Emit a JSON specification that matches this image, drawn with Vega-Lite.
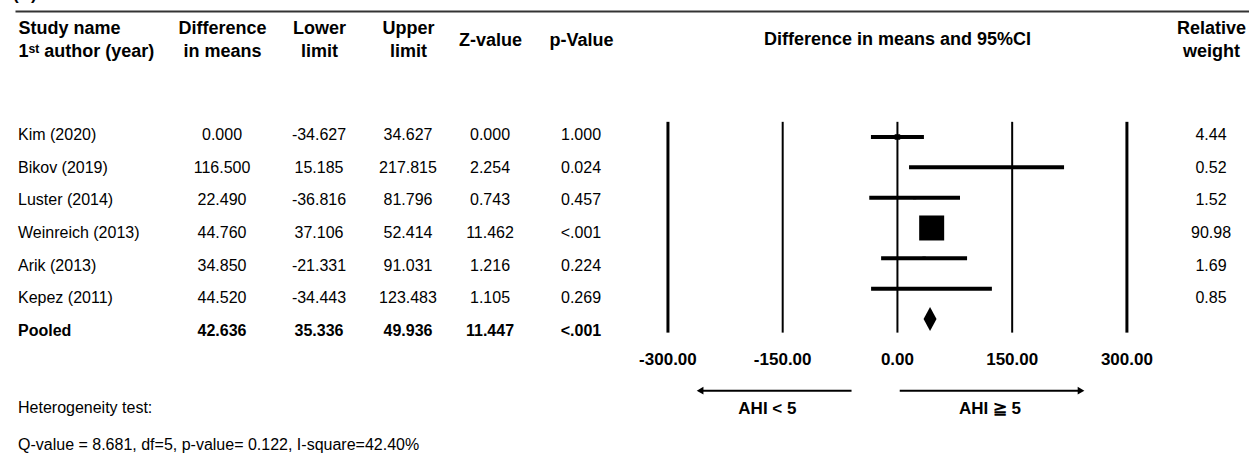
{
  "$schema": "https://vega.github.io/schema/vega-lite/v6.json",
  "width": 1249,
  "height": 460,
  "padding": 0,
  "autosize": {"type": "none"},
  "background": "#ffffff",
  "config": {
    "view": {"stroke": null},
    "font": "Liberation Sans",
    "text": {"font": "Liberation Sans", "color": "#000000"},
    "locale": {"number": {"decimal": ".", "thousands": ",", "grouping": [3], "currency": ["$", ""], "minus": "-"}}
  },
  "datasets": {
    "studies": [
      {"study": "Kim (2020)", "row": 1, "diff": 0.0, "lower": -34.627, "upper": 34.627, "z": 0.0, "p": "1.000", "weight": 4.44, "type": "study"},
      {"study": "Bikov (2019)", "row": 2, "diff": 116.5, "lower": 15.185, "upper": 217.815, "z": 2.254, "p": "0.024", "weight": 0.52, "type": "study"},
      {"study": "Luster (2014)", "row": 3, "diff": 22.49, "lower": -36.816, "upper": 81.796, "z": 0.743, "p": "0.457", "weight": 1.52, "type": "study"},
      {"study": "Weinreich (2013)", "row": 4, "diff": 44.76, "lower": 37.106, "upper": 52.414, "z": 11.462, "p": "<.001", "weight": 90.98, "type": "study"},
      {"study": "Arik (2013)", "row": 5, "diff": 34.85, "lower": -21.331, "upper": 91.031, "z": 1.216, "p": "0.224", "weight": 1.69, "type": "study"},
      {"study": "Kepez (2011)", "row": 6, "diff": 44.52, "lower": -34.443, "upper": 123.483, "z": 1.105, "p": "0.269", "weight": 0.85, "type": "study"},
      {"study": "Pooled", "row": 7, "diff": 42.636, "lower": 35.336, "upper": 49.936, "z": 11.447, "p": "<.001", "weight": null, "type": "pooled"}
    ],
    "ticks": [{"t": -300}, {"t": -150}, {"t": 0}, {"t": 150}, {"t": 300}]
  },
  "layer": [
    {
      "layer": [
        {
          "data": {"name": "studies"},
          "mark": {"type": "text", "align": "left", "fontSize": 16, "fontWeight": {"expr": "datum.type == 'pooled' ? 'bold' : 'normal'"}},
          "encoding": {
            "x": {
              "datum": 0, "type": "quantitative",
              "scale": {"domain": [0, 1, 2, 3, 4, 5, 6], "range": [18, 222, 319, 408, 490, 581, 1211], "nice": false, "zero": false},
              "axis": {
                "orient": "top", "offset": -11, "values": [0, 1, 2, 3, 4, 5, 6],
                "domain": false, "ticks": false, "tickSize": 0, "grid": false, "title": null,
                "labelPadding": {"condition": {"test": "datum.value == 4 || datum.value == 5", "value": -29}, "value": -17.5},
                "labelBaseline": "middle", "labelFontSize": 18, "labelFontWeight": "bold",
                "labelColor": "#000000", "labelFont": "Liberation Sans", "labelLineHeight": 23,
                "labelFlush": false, "labelOverlap": false, "labelBound": false, "labelLimit": 0,
                "labelAlign": {"condition": {"test": "datum.value == 0", "value": "left"}, "value": "center"},
                "labelExpr": "[['Study name','1ˢᵗ author (year)'],['Difference','in means'],['Lower','limit'],['Upper','limit'],'Z-value','p-Value',['Relative','weight']][datum.value]"
              }
            },
            "y": {"field": "row", "type": "quantitative", "scale": {"domain": [-3.13, 10.95], "reverse": true, "nice": false, "zero": false}, "axis": null},
            "text": {"field": "study"}
          }
        },
        {
          "data": {"name": "studies"},
          "mark": {"type": "text", "align": "center", "fontSize": 16, "fontWeight": {"expr": "datum.type == 'pooled' ? 'bold' : 'normal'"}},
          "encoding": {
            "x": {"datum": 1, "type": "quantitative"},
            "y": {"field": "row", "type": "quantitative"},
            "text": {"field": "diff", "format": ".3f"}
          }
        },
        {
          "data": {"name": "studies"},
          "mark": {"type": "text", "align": "center", "fontSize": 16, "fontWeight": {"expr": "datum.type == 'pooled' ? 'bold' : 'normal'"}},
          "encoding": {
            "x": {"datum": 2, "type": "quantitative"},
            "y": {"field": "row", "type": "quantitative"},
            "text": {"field": "lower", "format": ".3f"}
          }
        },
        {
          "data": {"name": "studies"},
          "mark": {"type": "text", "align": "center", "fontSize": 16, "fontWeight": {"expr": "datum.type == 'pooled' ? 'bold' : 'normal'"}},
          "encoding": {
            "x": {"datum": 3, "type": "quantitative"},
            "y": {"field": "row", "type": "quantitative"},
            "text": {"field": "upper", "format": ".3f"}
          }
        },
        {
          "data": {"name": "studies"},
          "mark": {"type": "text", "align": "center", "fontSize": 16, "fontWeight": {"expr": "datum.type == 'pooled' ? 'bold' : 'normal'"}},
          "encoding": {
            "x": {"datum": 4, "type": "quantitative"},
            "y": {"field": "row", "type": "quantitative"},
            "text": {"field": "z", "format": ".3f"}
          }
        },
        {
          "data": {"name": "studies"},
          "mark": {"type": "text", "align": "center", "fontSize": 16, "fontWeight": {"expr": "datum.type == 'pooled' ? 'bold' : 'normal'"}},
          "encoding": {
            "x": {"datum": 5, "type": "quantitative"},
            "y": {"field": "row", "type": "quantitative"},
            "text": {"field": "p"}
          }
        },
        {
          "data": {"name": "studies"},
          "transform": [{"filter": "datum.weight != null"}],
          "mark": {"type": "text", "align": "center", "fontSize": 16},
          "encoding": {
            "x": {"datum": 6, "type": "quantitative"},
            "y": {"field": "row", "type": "quantitative"},
            "text": {"field": "weight", "format": ".2f"}
          }
        },
        {
          "data": {"values": [{}]},
          "mark": {"type": "text", "align": "left", "fontSize": 16, "text": "Heterogeneity test:"},
          "encoding": {
            "x": {"datum": 0, "type": "quantitative"},
            "y": {"datum": 9.36, "type": "quantitative"}
          }
        },
        {
          "data": {"values": [{}]},
          "mark": {"type": "text", "align": "left", "fontSize": 16, "text": "Q-value = 8.681, df=5, p-value= 0.122, I-square=42.40%"},
          "encoding": {
            "x": {"datum": 0, "type": "quantitative"},
            "y": {"datum": 10.49, "type": "quantitative"}
          }
        },
        {
          "data": {"values": [{}]},
          "mark": {"type": "text", "align": "left", "baseline": "alphabetic", "fontSize": 17, "fontWeight": "bold", "dx": -5, "text": "(A)"},
          "encoding": {
            "x": {"datum": 0, "type": "quantitative"},
            "y": {"datum": -3.115, "type": "quantitative"}
          }
        }
      ]
    },
    {
      "layer": [
        {
          "data": {"name": "ticks"},
          "mark": {"type": "rule", "color": "#000000"},
          "encoding": {
            "x": {
              "field": "t", "type": "quantitative",
              "scale": {"domain": [-1153.6, 459.6], "range": [15, 1249], "nice": false, "zero": false},
              "axis": {"orient": "top", "offset": -11, "labels": false, "ticks": false, "grid": false, "title": null, "domain": true, "domainColor": "#333333", "domainWidth": 2}
            },
            "y": {"datum": 0.5, "type": "quantitative", "scale": {"domain": [-3.517, 11.65], "reverse": true, "nice": false, "zero": false}, "axis": null},
            "y2": {"datum": 7.45},
            "strokeWidth": {"condition": {"test": "abs(datum.t) == 300", "value": 3}, "value": 2}
          }
        },
        {
          "data": {"name": "ticks"},
          "mark": {"type": "text", "fontSize": 17, "fontWeight": "bold", "align": "center"},
          "encoding": {
            "x": {"field": "t", "type": "quantitative"},
            "y": {"datum": 8.35, "type": "quantitative"},
            "text": {"field": "t", "format": ".2f"}
          }
        },
        {
          "data": {"name": "studies"},
          "transform": [{"filter": "datum.type != 'pooled'"}],
          "mark": {"type": "rule", "color": "#000000", "strokeWidth": 4},
          "encoding": {
            "x": {"field": "lower", "type": "quantitative"},
            "x2": {"field": "upper"},
            "y": {"field": "row", "type": "quantitative"}
          }
        },
        {
          "data": {"name": "studies"},
          "transform": [{"filter": "datum.type != 'pooled'"}],
          "mark": {"type": "point", "shape": "square", "filled": true, "color": "#000000", "opacity": 1, "strokeWidth": 0},
          "encoding": {
            "x": {"field": "diff", "type": "quantitative"},
            "y": {"field": "row", "type": "quantitative"},
            "size": {"field": "weight", "type": "quantitative", "scale": {"domain": [0, 90.98], "range": [0, 625], "zero": true}, "legend": null}
          }
        },
        {
          "data": {"name": "studies"},
          "transform": [{"filter": "datum.type == 'pooled'"}],
          "mark": {"type": "point", "shape": "M-0.54,0L0,-1L0.54,0L0,1Z", "size": 576, "filled": true, "color": "#000000", "opacity": 1, "strokeWidth": 0},
          "encoding": {
            "x": {"field": "diff", "type": "quantitative"},
            "y": {"field": "row", "type": "quantitative"}
          }
        },
        {
          "data": {"values": [{}]},
          "mark": {"type": "rule", "color": "#000000", "strokeWidth": 2},
          "encoding": {
            "x": {"datum": -60, "type": "quantitative"},
            "x2": {"datum": -258},
            "y": {"datum": 9.365, "type": "quantitative"}
          }
        },
        {
          "data": {"values": [{}]},
          "mark": {"type": "point", "shape": "triangle-left", "size": 60, "filled": true, "color": "#000000", "opacity": 1, "strokeWidth": 0},
          "encoding": {
            "x": {"datum": -258, "type": "quantitative"},
            "y": {"datum": 9.365, "type": "quantitative"}
          }
        },
        {
          "data": {"values": [{}]},
          "mark": {"type": "rule", "color": "#000000", "strokeWidth": 2},
          "encoding": {
            "x": {"datum": 3, "type": "quantitative"},
            "x2": {"datum": 240},
            "y": {"datum": 9.365, "type": "quantitative"}
          }
        },
        {
          "data": {"values": [{}]},
          "mark": {"type": "point", "shape": "triangle-right", "size": 60, "filled": true, "color": "#000000", "opacity": 1, "strokeWidth": 0},
          "encoding": {
            "x": {"datum": 240, "type": "quantitative"},
            "y": {"datum": 9.365, "type": "quantitative"}
          }
        },
        {
          "data": {"values": [{}]},
          "mark": {"type": "text", "fontSize": 17, "fontWeight": "bold", "text": "AHI < 5"},
          "encoding": {
            "x": {"datum": -170, "type": "quantitative"},
            "y": {"datum": 9.98, "type": "quantitative"}
          }
        },
        {
          "data": {"values": [{}]},
          "mark": {"type": "text", "fontSize": 17, "fontWeight": "bold", "text": "AHI ≧ 5"},
          "encoding": {
            "x": {"datum": 121, "type": "quantitative"},
            "y": {"datum": 9.98, "type": "quantitative"}
          }
        },
        {
          "data": {"values": [{}]},
          "mark": {"type": "text", "fontSize": 18, "fontWeight": "bold", "text": "Difference in means and 95%CI"},
          "encoding": {
            "x": {"datum": 0, "type": "quantitative"},
            "y": {"datum": -2.2, "type": "quantitative"}
          }
        }
      ]
    }
  ],
  "resolve": {"scale": {"x": "independent", "y": "independent"}}
}
